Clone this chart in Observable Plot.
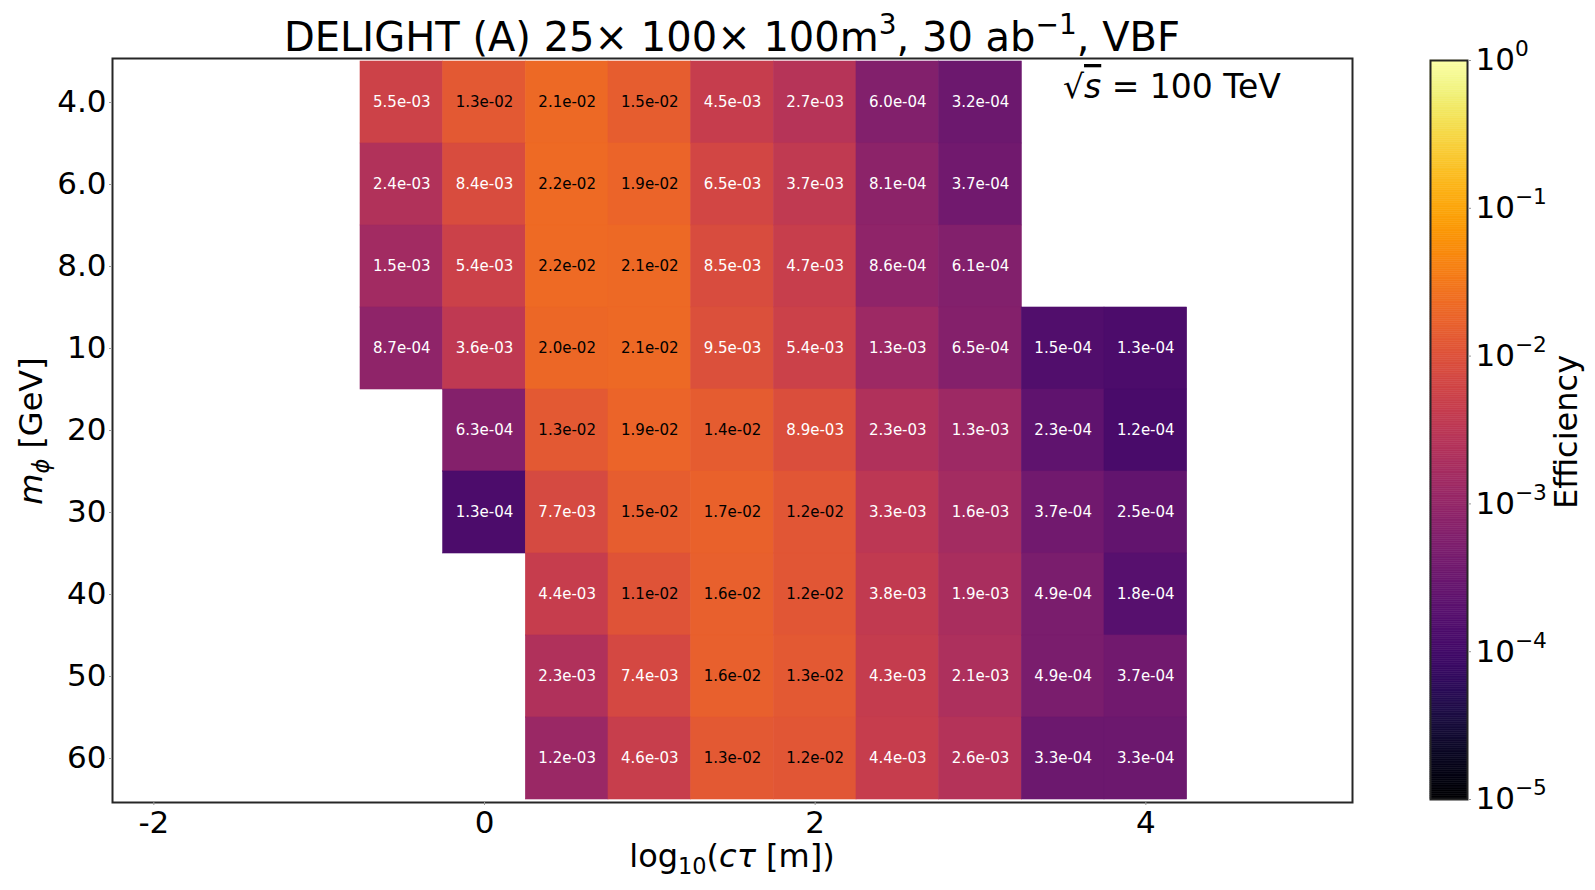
<!DOCTYPE html>
<html>
<head>
<meta charset="utf-8">
<script src="https://cdn.jsdelivr.net/npm/d3@7"></script>
<script src="https://cdn.jsdelivr.net/npm/@observablehq/plot@0.6"></script>
<style>
  html, body { margin: 0; padding: 0; background: white; }
  #wrap { position: relative; width: 1595px; height: 890px; font-family: "DejaVu Sans", sans-serif; }
  #main { position: absolute; left: 0; top: 0; }
  #cbar { position: absolute; left: 1400px; top: 0; }
</style>
</head>
<body>
<div id="wrap"><div id="main"></div><div id="cbar"></div></div>
<script>
// ---- data ----
const ctValues = [-0.5, 0, 0.5, 1, 1.5, 2, 2.5, 3, 3.5, 4];           // log10(cτ [m]) column centres
const masses = ["4.0", "6.0", "8.0", "10", "20", "30", "40", "50", "60"]; // m_φ [GeV] rows
const eff_4  = [5.5e-3, 1.3e-2, 2.1e-2, 1.5e-2, 4.5e-3, 2.7e-3, 6.0e-4, 3.2e-4, null, null];
const eff_6  = [2.4e-3, 8.4e-3, 2.2e-2, 1.9e-2, 6.5e-3, 3.7e-3, 8.1e-4, 3.7e-4, null, null];
const eff_8  = [1.5e-3, 5.4e-3, 2.2e-2, 2.1e-2, 8.5e-3, 4.7e-3, 8.6e-4, 6.1e-4, null, null];
const eff_10 = [8.7e-4, 3.6e-3, 2.0e-2, 2.1e-2, 9.5e-3, 5.4e-3, 1.3e-3, 6.5e-4, 1.5e-4, 1.3e-4];
const eff_20 = [null, 6.3e-4, 1.3e-2, 1.9e-2, 1.4e-2, 8.9e-3, 2.3e-3, 1.3e-3, 2.3e-4, 1.2e-4];
const eff_30 = [null, 1.3e-4, 7.7e-3, 1.5e-2, 1.7e-2, 1.2e-2, 3.3e-3, 1.6e-3, 3.7e-4, 2.5e-4];
const eff_40 = [null, null, 4.4e-3, 1.1e-2, 1.6e-2, 1.2e-2, 3.8e-3, 1.9e-3, 4.9e-4, 1.8e-4];
const eff_50 = [null, null, 2.3e-3, 7.4e-3, 1.6e-2, 1.3e-2, 4.3e-3, 2.1e-3, 4.9e-4, 3.7e-4];
const eff_60 = [null, null, 1.2e-3, 4.6e-3, 1.3e-2, 1.2e-2, 4.4e-3, 2.6e-3, 3.3e-4, 3.3e-4];
const xTicks = [-2, 0, 2, 4];
const xTickLabels = ["-2", "0", "2", "4"];
const cbarTicks = [1e-5, 1e-4, 1e-3, 1e-2, 1e-1, 1];
const cbarDomain = [1e-5, 1];
const cellWidth = 0.5;

const rows = [eff_4, eff_6, eff_8, eff_10, eff_20, eff_30, eff_40, eff_50, eff_60];
const cells = [];
rows.forEach((r, i) => r.forEach((v, j) => {
  if (v != null) cells.push({mass: masses[i], ct: ctValues[j], eff: v});
}));

const fmt = v => v.toExponential(1).replace(/e([+-])(\d+)$/, (m, s, d) => "e" + s + d.padStart(2, "0"));
const expFmt = v => { const e = Math.round(Math.log10(v)); return "10|" + (e < 0 ? "−" + (-e) : String(e)); };

const colorOpts = {type: "log", scheme: "inferno", domain: cbarDomain};
const FONT = "DejaVu Sans";

// ---- main heatmap ----
const main = Plot.plot({
  width: 1400, height: 890,
  marginLeft: 112, marginRight: 48, marginTop: 58, marginBottom: 88,
  style: {fontFamily: FONT, fontSize: "31px", background: "white", color: "black"},
  x: {domain: [-2.25, 5.25]},
  y: {type: "band", domain: masses, padding: 0},
  color: colorOpts,
  marks: [
    Plot.barX(cells, {x1: d => d.ct - cellWidth / 2, x2: d => d.ct + cellWidth / 2, y: "mass",
      fill: "eff", stroke: "eff", strokeWidth: 0.6}),
    Plot.text(cells.filter(d => d.eff < 0.01), {x: "ct", y: "mass", text: d => fmt(d.eff), fill: "white", fontSize: 15}),
    Plot.text(cells.filter(d => d.eff >= 0.01), {x: "ct", y: "mass", text: d => fmt(d.eff), fill: "black", fontSize: 15}),
    Plot.frame({stroke: "#262626", strokeWidth: 2}),
    Plot.axisX({ticks: xTicks, tickFormat: d => xTickLabels[xTicks.indexOf(d)], tickSize: 3, tickPadding: 5,
      stroke: "#999", fill: "black", fontSize: 31, label: null}),
    Plot.axisY({tickSize: 3, tickPadding: 3, stroke: "#999", fill: "black", fontSize: 31, label: null})
  ]
});
document.getElementById("main").appendChild(main);

// rich-text labels
const ms = d3.select(main);
function rich(sel, parts, baseSize) {
  parts.forEach(p => {
    const t = sel.append("tspan").text(p.t);
    if (p.italic) t.attr("font-style", "italic");
    if (p.sup) t.attr("font-size", baseSize * 0.7).attr("dy", -baseSize * 0.42);
    if (p.sub) t.attr("font-size", baseSize * 0.7).attr("dy", baseSize * 0.22);
    if (p.back) t.attr("dy", p.back);
    if (p.over) t.attr("text-decoration", "overline");
  });
}
const T = 40;
const title = ms.append("text").attr("x", 732).attr("y", 51).attr("text-anchor", "middle")
  .attr("font-family", FONT).attr("font-size", T).attr("fill", "black");
rich(title, [
  {t: "DELIGHT (A) 25× 100× 100m"}, {t: "3", sup: true}, {t: ", 30 ab", back: T * 0.42},
  {t: "−1", sup: true}, {t: ", VBF", back: T * 0.42}
], T);

const L = 32;
const xl = ms.append("text").attr("x", 732).attr("y", 867).attr("text-anchor", "middle")
  .attr("font-family", FONT).attr("font-size", L).attr("fill", "black");
rich(xl, [{t: "log"}, {t: "10", sub: true}, {t: "(", back: -L * 0.22}, {t: "cτ", italic: true}, {t: " [m])"}], L);

const yl = ms.append("text").attr("transform", "translate(42,431) rotate(-90)").attr("text-anchor", "middle")
  .attr("font-family", FONT).attr("font-size", L).attr("fill", "black");
rich(yl, [{t: "m", italic: true}, {t: "ϕ", italic: true, sub: true}, {t: " [GeV]", back: -L * 0.22}], L);

const an = ms.append("text").attr("x", 1063).attr("y", 98).attr("text-anchor", "start")
  .attr("font-family", FONT).attr("font-size", 33).attr("fill", "black");
rich(an, [{t: "√"}, {t: "s", italic: true, over: true}, {t: " = 100 TeV"}], 33);

// ---- colour bar ----
const bands = d3.range(0, 400).map(i => {
  const lo = -5 + 5 * i / 400, hi = -5 + 5 * (i + 1) / 400;
  return {lo: 10 ** lo, hi: 10 ** hi, mid: 10 ** ((lo + hi) / 2)};
});
const cbar = Plot.plot({
  width: 195, height: 890,
  marginLeft: 30, marginRight: 128, marginTop: 60, marginBottom: 91,
  style: {fontFamily: FONT, fontSize: "31px", background: "white", color: "black"},
  x: {domain: [0, 1], axis: null},
  y: {type: "log", domain: cbarDomain},
  color: colorOpts,
  marks: [
    Plot.rect(bands, {x1: 0, x2: 1, y1: "lo", y2: "hi", fill: "mid", stroke: "mid", strokeWidth: 0.5}),
    Plot.frame({stroke: "#262626", strokeWidth: 2}),
    Plot.axisY({anchor: "right", ticks: cbarTicks, tickFormat: expFmt, tickSize: 3, tickPadding: 5,
      stroke: "#999", fill: "black", fontSize: 31, label: null})
  ]
});
document.getElementById("cbar").appendChild(cbar);
// turn "10|e" tick labels into 10 with a superscript exponent
d3.select(cbar).selectAll("text").each(function() {
  const s = this.textContent;
  if (!s.includes("|")) return;
  const [base, ex] = s.split("|");
  const t = d3.select(this);
  t.text(null);
  t.append("tspan").text(base);
  t.append("tspan").attr("font-size", 31 * 0.7).attr("dy", -31 * 0.45).text(ex);
});
d3.select(cbar).append("text").attr("transform", "translate(177,432) rotate(-90)").attr("text-anchor", "middle")
  .attr("font-family", FONT).attr("font-size", L).attr("fill", "black").text("Efficiency");
</script>
</body>
</html>
